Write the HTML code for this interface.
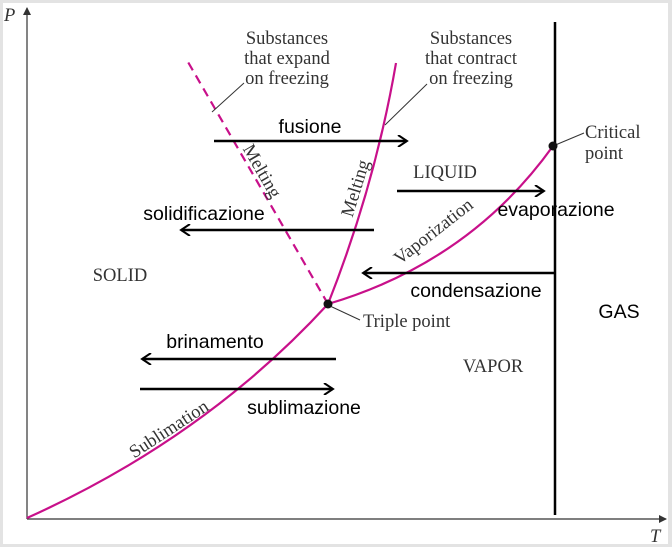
<!DOCTYPE html>
<html><head><meta charset="utf-8"><style>
html,body{margin:0;padding:0;background:#fff}
svg{display:block}
.s{font-family:"Liberation Serif",serif;fill:#333;font-size:18.5px}
.a{font-family:"Liberation Sans",sans-serif;fill:#000;font-size:19.5px}
</style></head><body>
<svg width="672" height="547" viewBox="0 0 672 547" xmlns="http://www.w3.org/2000/svg">
<rect x="0" y="0" width="672" height="547" fill="#e3e3e3"/>
<rect x="3" y="3" width="665" height="541" fill="#fff"/>
<defs><marker id="ah" markerWidth="12" markerHeight="12" refX="10" refY="6" orient="auto" markerUnits="userSpaceOnUse"><path d="M1,0 L10,6 L1,12" fill="none" stroke="#000" stroke-width="2"/></marker>
<marker id="ax" markerWidth="8" markerHeight="10" refX="7" refY="4" orient="auto" markerUnits="userSpaceOnUse"><path d="M0,0 L8,4 L0,8 Z" fill="#333"/></marker></defs>
<line x1="27" y1="519" x2="27" y2="8" stroke="#333" stroke-width="1.2" marker-end="url(#ax)"/>
<line x1="27" y1="519" x2="666" y2="519" stroke="#333" stroke-width="1.2" marker-end="url(#ax)"/>
<text x="4" y="21" class="s" font-style="italic">P</text>
<text x="650" y="542" class="s" font-style="italic">T</text>
<line x1="555" y1="22" x2="555" y2="515" stroke="#000" stroke-width="2.5"/>
<g fill="none" stroke="#c8108a" stroke-width="2.2">
<path d="M27,518 Q205,438 328,304"/>
<path d="M328,304 Q470,262 553,146"/>
<path d="M328,304 Q375,185 396,63"/>
<path d="M328,304 L188,62" stroke-dasharray="9,6"/>
</g>
<g stroke="#333" stroke-width="1" fill="none">
<line x1="212" y1="112" x2="244" y2="83"/>
<line x1="385" y1="125" x2="427" y2="84"/>
<line x1="553" y1="146" x2="584" y2="133"/>
<line x1="330" y1="306" x2="360" y2="320"/>
</g>
<circle cx="328" cy="304" r="4.5" fill="#111"/>
<circle cx="553" cy="146" r="4.5" fill="#111"/>
<g stroke="#000" stroke-width="2.5" marker-end="url(#ah)">
<line x1="214" y1="141" x2="407" y2="141"/>
<line x1="397" y1="191" x2="544" y2="191"/>
<line x1="374" y1="230" x2="181" y2="230"/>
<line x1="556" y1="273" x2="363" y2="273"/>
<line x1="336" y1="359" x2="142" y2="359"/>
<line x1="140" y1="389" x2="333" y2="389"/>
</g>
<text class="a" x="310" y="133" text-anchor="middle">fusione</text>
<text class="a" x="204" y="220" text-anchor="middle">solidificazione</text>
<text class="a" x="556" y="216" text-anchor="middle">evaporazione</text>
<text class="a" x="476" y="297" text-anchor="middle">condensazione</text>
<text class="a" x="215" y="348" text-anchor="middle">brinamento</text>
<text class="a" x="304" y="414" text-anchor="middle">sublimazione</text>
<text class="a" x="619" y="318" text-anchor="middle" font-size="20.5">GAS</text>
<text class="s" x="445" y="178" text-anchor="middle">LIQUID</text>
<text class="s" x="120" y="281" text-anchor="middle">SOLID</text>
<text class="s" x="493" y="372" text-anchor="middle">VAPOR</text>
<text class="s" x="363" y="327">Triple point</text>
<text class="s" x="585" y="138">Critical</text>
<text class="s" x="585" y="159">point</text>
<g text-anchor="middle">
<text x="287" y="44" class="s">Substances</text>
<text x="287" y="64" class="s">that expand</text>
<text x="287" y="84" class="s">on freezing</text>
<text x="471" y="44" class="s">Substances</text>
<text x="471" y="64" class="s">that contract</text>
<text x="471" y="84" class="s">on freezing</text>
</g>
<text class="s" text-anchor="middle" transform="translate(257,174) rotate(60)">Melting</text>
<text class="s" text-anchor="middle" transform="translate(361,190) rotate(-73)">Melting</text>
<text class="s" text-anchor="middle" transform="translate(437,236) rotate(-38)">Vaporization</text>
<text class="s" text-anchor="middle" transform="translate(172,434) rotate(-33)">Sublimation</text>
</svg>
</body></html>
